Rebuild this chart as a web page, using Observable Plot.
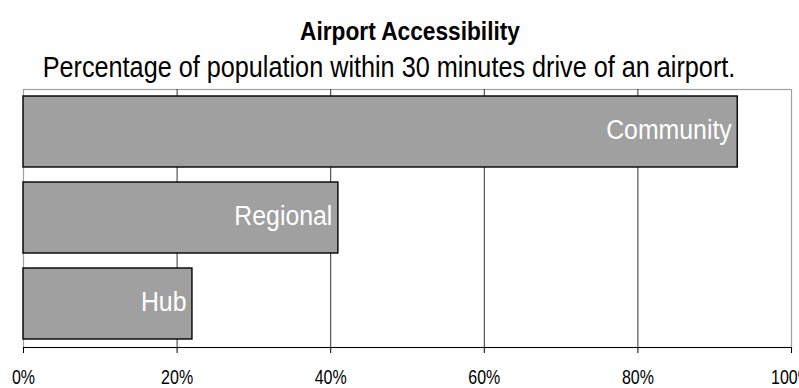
<!DOCTYPE html>
<html>
<head>
<meta charset="utf-8">
<script src="https://cdn.jsdelivr.net/npm/d3@7"></script>
<script src="https://cdn.jsdelivr.net/npm/@observablehq/plot@0.6"></script>
<style>
  html, body { margin: 0; padding: 0; background: #fff; overflow: hidden; }
  #wrap { width: 799px; height: 388px; position: relative; }
  #head { display: block; }
</style>
</head>
<body>
<div id="wrap"></div>
<script>
const titleText = "Airport Accessibility";
const subtitleText = "Percentage of population within 30 minutes drive of an airport.";
const categories = ["Community", "Regional", "Hub"];
const values = [93, 41, 22];
const tickValues = [0, 20, 40, 60, 80, 100];
const gridValues = [20, 40, 60, 80];

const data = categories.map((c, i) => ({category: c, value: values[i]}));
const fontStack = '"Liberation Sans", Arial, sans-serif';

// Liberation Sans drawn horizontally condensed (textLength), to imitate a narrow face
function condense(nodes, s) {
  nodes.forEach(t => {
    const w = t.getComputedTextLength();
    if (w > 0) {
      t.setAttribute("textLength", (w * s).toFixed(2));
      t.setAttribute("lengthAdjust", "spacingAndGlyphs");
    }
  });
}

const wrap = d3.select("#wrap");
const head = wrap.append("svg")
  .attr("id", "head")
  .attr("width", 799).attr("height", 88)
  .style("font-family", fontStack);
head.append("text")
  .attr("transform", "translate(410,40) scale(0.857,1)")
  .attr("text-anchor", "middle")
  .attr("font-size", 26.5).attr("font-weight", "bold")
  .attr("fill", "#000")
  .text(titleText);
head.append("text")
  .attr("transform", "translate(389,77) scale(0.87,1)")
  .attr("text-anchor", "middle")
  .attr("font-size", 29)
  .attr("fill", "#000")
  .text(subtitleText);

const chart = Plot.plot({
  width: 799,
  height: 300,
  marginTop: 1,
  marginBottom: 41,
  marginLeft: 23,
  marginRight: 8,
  style: {fontFamily: fontStack, fontSize: "19.5px", color: "#000", background: "transparent", overflow: "visible"},
  x: {domain: [0, 100], label: null},
  y: {domain: categories, padding: 0.17, paddingOuter: 0.08, axis: null, label: null},
  marks: [
    Plot.frame({stroke: "#a0a0a0", strokeWidth: 1.2}),
    Plot.ruleX(gridValues, {stroke: "#333", strokeWidth: 1}),
    Plot.barX(data, {x: "value", y: "category", fill: "#a0a0a0", stroke: "#000", strokeWidth: 1.4}),
    Plot.text(data, {x: "value", y: "category", text: "category", textAnchor: "end", dx: -6, dy: -2, fill: "#fff", fontSize: 27}),
    Plot.frame({anchor: "bottom", stroke: "#000", strokeWidth: 1.2}),
    Plot.axisX({ticks: tickValues, tickFormat: d => d + "%", tickSize: 6, tickPadding: 17, stroke: "#000", fill: "#000"})
  ]
});
wrap.node().appendChild(chart);

const allTexts = Array.from(chart.querySelectorAll("text"));
const barLabels = allTexts.filter(t => {
  const g = t.closest("g");
  return (t.getAttribute("fill") === "#fff") || (g && g.getAttribute("fill") === "#fff");
});
const otherTexts = allTexts.filter(t => !barLabels.includes(t));
condense(barLabels, 0.92);
condense(otherTexts, 0.82);
</script>
</body>
</html>
